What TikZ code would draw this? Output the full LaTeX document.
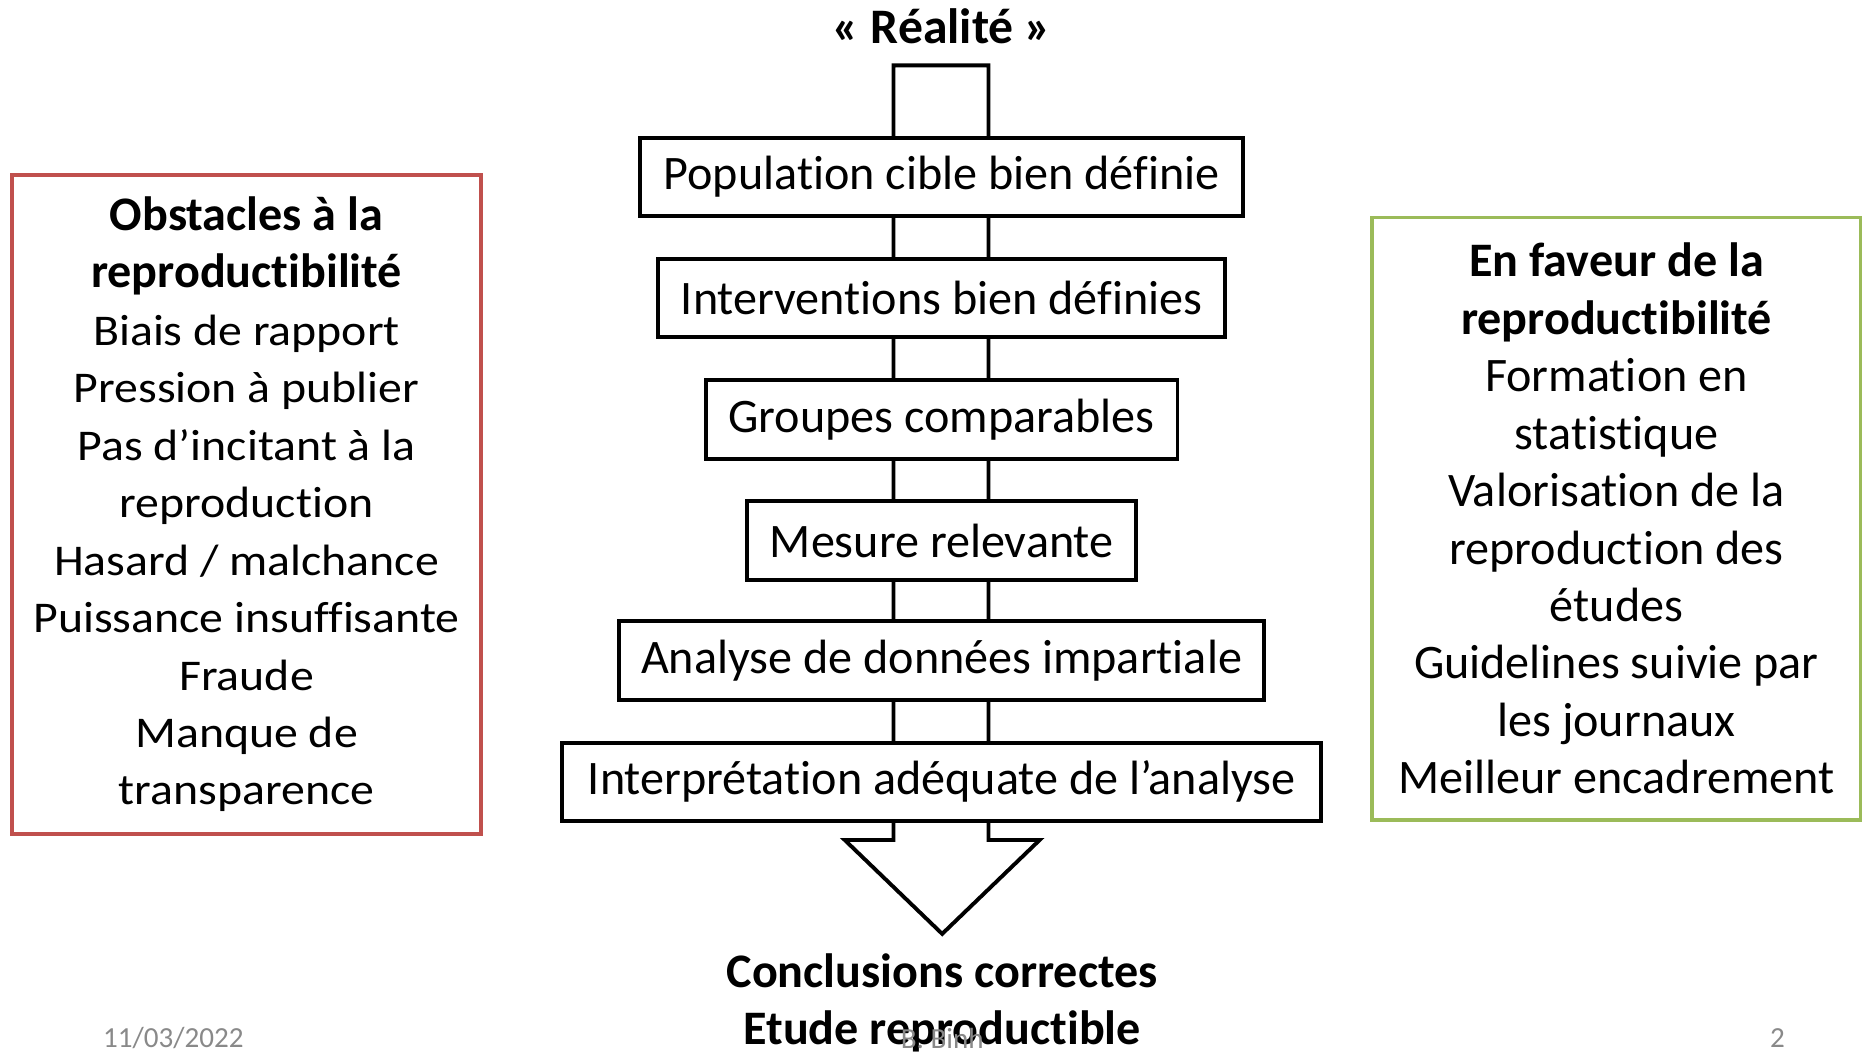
\documentclass[tikz,border=0pt]{standalone}
\usepackage{fontspec}
\setmainfont[Ligatures=NoCommon]{Carlito}
\newfontfamily\widefont[FakeStretch=1.09,Ligatures=NoCommon]{Carlito}
\newcommand{\obsline}[1]{{\widefont\fontsize{22.6}{29.6}\selectfont #1}}
\usetikzlibrary{backgrounds}
\definecolor{obsred}{HTML}{C0504D}
\definecolor{favgreen}{HTML}{9BBB59}
\definecolor{footgray}{HTML}{898989}
\tikzset{
  flowbox/.style={draw=black, line width=2pt, fill=white, inner sep=0pt,
    minimum height={66*0.6122pt}, font=\fontsize{24.8}{29.6}\selectfont},
  sidebox/.style={line width=1.9pt, fill=white, inner sep=0pt, align=center,
    font=\fontsize{24.8}{29.6}\selectfont},
  flowline/.style={line width=2pt, fill=white, line join=miter},
  foot/.style={text=footgray, font=\fontsize{15}{18}\selectfont},
  title/.style={font=\bfseries\fontsize{24.8}{29.6}\selectfont, align=center}
}
\begin{document}
\begin{tikzpicture}[x=0.6122pt, y=-0.6122pt]
\useasboundingbox (0,0) rectangle (1568,886);

\node[title, font=\bfseries\fontsize{25.6}{29.6}\selectfont] (real) at (793,22) {« Réalité »};

\node[flowbox, minimum width={507*0.6122pt}] (b1) at (792.5,149) {Population cible bien définie};
\node[flowbox, minimum width={477*0.6122pt}] (b2) at (792.5,251) {Interventions bien définies};
\node[flowbox, minimum width={397*0.6122pt}] (b3) at (792.5,353) {Groupes comparables};
\node[flowbox, minimum width={327*0.6122pt}] (b4) at (792.5,455) {Mesure relevante};
\node[flowbox, minimum width={543*0.6122pt}] (b5) at (792.5,556) {Analyse de données impartiale};
\node[flowbox, minimum width={639*0.6122pt}] (b6) at (792.5,658) {Interprétation adéquate de l’analyse};

\coordinate (top) at (792.5,55);
\coordinate (tip) at (793,786);

\begin{scope}[on background layer]
\draw[flowline] (top -| 752,0) -- (top -| 832,0) -- (832,707) -- (875,707) -- (tip)
  -- (711,707) -- (752,707) -- cycle;
\end{scope}

\node[title] (concl) at (793,844) {Conclusions correctes\\Etude reproductible};

\node[sidebox, draw=obsred, minimum width={395*0.6122pt}, minimum height={555*0.6122pt}] (obs) at (207.5,424.5)
  {\textbf{Obstacles à la}\\\textbf{reproductibilité}\\\obsline{Biais de rapport}\\\obsline{Pression à publier}\\\obsline{Pas d’incitant à la}\\\obsline{reproduction}\\\obsline{Hasard / malchance}\\\obsline{Puissance insuffisante}\\\obsline{Fraude}\\\obsline{Manque de}\\\obsline{transparence}};

\node[sidebox, draw=favgreen, minimum width={411*0.6122pt}, minimum height={507*0.6122pt}] (fav) at (1360.5,436.5)
  {\textbf{En faveur de la}\\\textbf{reproductibilité}\\Formation en\\statistique\\Valorisation de la\\reproduction des\\études\\Guidelines suivie par\\les journaux\\Meilleur encadrement};

\node[foot] (date) at (146,874) {11/03/2022};
\node[foot] (auth) at (793,874) {B. Binh};
\node[foot] (page) at (1496,874) {2};
\end{tikzpicture}
\end{document}
